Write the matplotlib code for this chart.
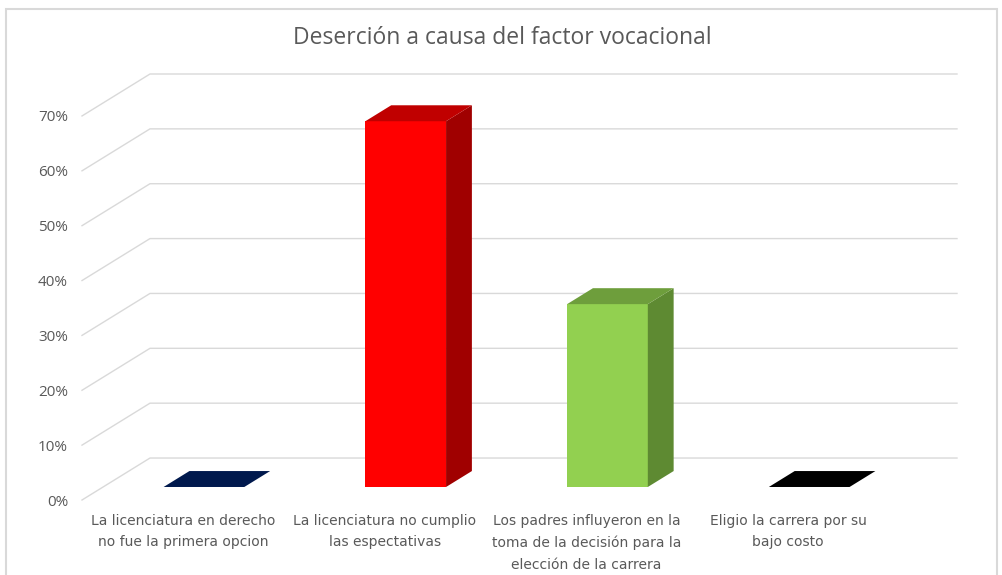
import numpy as np
import matplotlib
matplotlib.use("Agg")
import matplotlib.pyplot as plt
from matplotlib.patches import Polygon, Rectangle

# Datos
categorias = ["La licenciatura en derecho\nno fue la primera opcion",
              "La licenciatura no cumplio\nlas espectativas",
              "Los padres influyeron en la\ntoma de la decisión para la\nelección de la carrera",
              "Eligio la carrera por su\nbajo costo"]
valores = [0.0, 66.67, 33.33, 0.0]
ticks = [0, 10, 20, 30, 40, 50, 60, 70]
colores_frente = ["#002060", "#FF0000", "#92D050", "#000000"]
colores_tapa = ["#00194D", "#C00000", "#6E9E3C", "#000000"]
colores_lado = ["#001440", "#A00000", "#5E8A32", "#000000"]

# Perspectiva (unidades de datos)
DX, DY = 0.337, 7.65        # profundidad total del piso
f0, fd = 0.31, 0.38          # inicio y grosor de la barra en profundidad
ancho = 0.40
gris = "#595959"

fig = plt.figure(figsize=(10.03, 5.75), dpi=100)
fig.patches.append(Rectangle((6 / 1003, -0.01), 991 / 1003, (575 - 9) / 575 + 0.01,
                             transform=fig.transFigure, fill=False,
                             edgecolor="#D9D9D9", linewidth=1.5))

ax = fig.add_axes([82 / 1003, 75 / 575, 875 / 1003, 426 / 575])
ax.set_xlim(-0.5, 3.5 + DX)
ax.set_ylim(0, 70 + DY)
for s in ax.spines.values():
    s.set_visible(False)

# Rejilla en perspectiva
for t in ticks:
    ax.plot([-0.5, -0.5 + DX, 3.5 + DX], [t, t + DY, t + DY],
            color="#D9D9D9", linewidth=1.0, zorder=1, clip_on=False)

# Barras 3D
for i, v in enumerate(valores):
    x0 = i - ancho / 2 + f0 * DX
    y0 = f0 * DY
    ox, oy = fd * DX, fd * DY
    x1 = x0 + ancho
    if v > 0:
        ax.add_patch(Polygon([(x0, y0), (x1, y0), (x1, y0 + v), (x0, y0 + v)],
                             closed=True, facecolor=colores_frente[i], edgecolor="none", zorder=3))
        ax.add_patch(Polygon([(x1, y0), (x1 + ox, y0 + oy), (x1 + ox, y0 + v + oy), (x1, y0 + v)],
                             closed=True, facecolor=colores_lado[i], edgecolor="none", zorder=3))
    ax.add_patch(Polygon([(x0, y0 + v), (x1, y0 + v), (x1 + ox, y0 + v + oy), (x0 + ox, y0 + v + oy)],
                         closed=True, facecolor=colores_tapa[i], edgecolor="none", zorder=3))

ax.set_yticks(ticks)
ax.set_yticklabels([f"{t}%" for t in ticks], color=gris, fontsize=11, family="Open Sans")
ax.tick_params(axis="y", length=0, pad=10)
ax.set_xticks(range(len(categorias)))
ax.set_xticklabels(categorias, color=gris, fontsize=10, family="Liberation Sans Narrow",
                   linespacing=1.68, va="top")
ax.tick_params(axis="x", length=0, pad=10)

fig.text(502 / 1003, 1 - 38 / 575, "Deserción a causa del factor vocacional",
         ha="center", va="center", fontsize=16.5, color=gris, family="Open Sans")

fig.savefig("out.png", dpi=100)
